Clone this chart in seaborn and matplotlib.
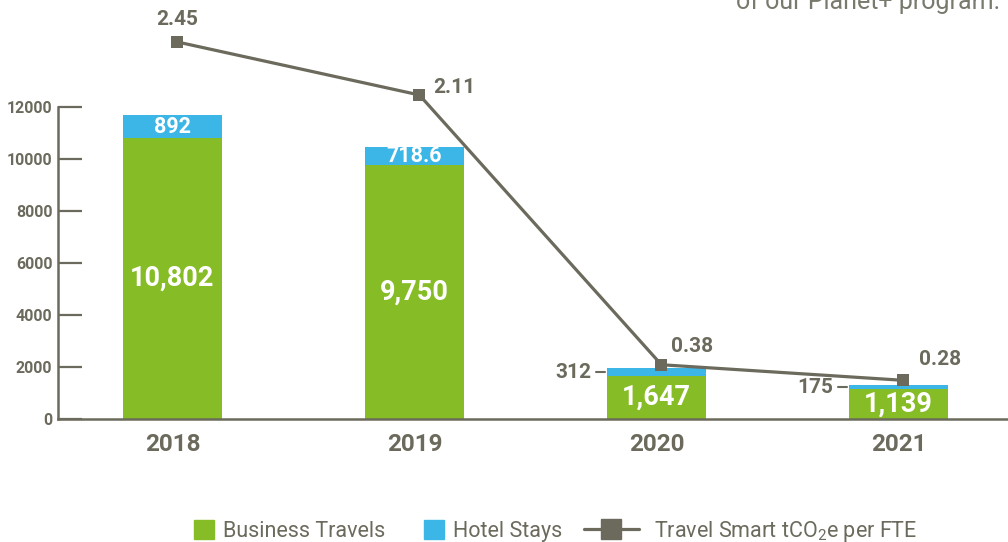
import matplotlib
matplotlib.use("Agg")
import matplotlib.pyplot as plt
import seaborn as sns
import numpy as np
from matplotlib.patches import Patch
from matplotlib.lines import Line2D

# Emissions by category (tCO2e) and intensity per FTE
years = ["2018", "2019", "2020", "2021"]
business_travels = [10802, 9750, 1647, 1139]
hotel_stays = [892, 718.6, 312, 175]
business_labels = ["10,802", "9,750", "1,647", "1,139"]
hotel_labels = ["892", "718.6", "312", "175"]
per_fte = [2.45, 2.11, 0.38, 0.28]
per_fte_labels = ["2.45", "2.11", "0.38", "0.28"]
y_ticks = [0, 2000, 4000, 6000, 8000, 10000, 12000]

GREEN = "#86bc25"
BLUE = "#3cb6e6"
GREY = "#6b6a5c"

sns.set_style("white")
plt.rcParams["font.family"] = ["Roboto", "DejaVu Sans"]
plt.rcParams["mathtext.default"] = "regular"

W, H = 1008, 542
fig = plt.figure(figsize=(W / 100, H / 100), dpi=100)
ax = fig.add_axes([58 / W, (H - 419) / H, (W - 58) / W, (419 - 10) / H])

totals = [b + h for b, h in zip(business_travels, hotel_stays)]
bar_w = 0.41
sns.barplot(x=years, y=totals, color=BLUE, width=bar_w, ax=ax, saturation=1,
            linewidth=0)
sns.barplot(x=years, y=business_travels, color=GREEN, width=bar_w, ax=ax,
            saturation=1, linewidth=0)

ax.set_xlim(-0.473, 3.452)
ax.set_ylim(0, 15730)
ax.set_yticks(y_ticks)
ax.set_yticklabels([str(t) for t in y_ticks])
ax.set_xlabel("")
ax.set_ylabel("")
for s in ["top", "right"]:
    ax.spines[s].set_visible(False)
for s in ["left", "bottom"]:
    ax.spines[s].set_color(GREY)
    ax.spines[s].set_linewidth(1.8)
ax.spines["left"].set_bounds(0, 12000)
ax.tick_params(axis="y", direction="in", length=17.5, width=1.6, color=GREY,
               labelsize=11.5, labelcolor=GREY, pad=4)
ax.tick_params(axis="x", length=0, labelsize=17.5, labelcolor=GREY, pad=10)
for lbl in ax.get_yticklabels() + ax.get_xticklabels():
    lbl.set_fontweight("bold")

px = 1 / 242.0  # one pixel in x data units
for i in range(len(years)):
    b, h = business_travels[i], hotel_stays[i]
    ax.text(i, b / 2, business_labels[i], ha="center", va="center",
            color="white", fontsize=19.5, fontweight="bold")
    if h > 500:
        ax.text(i, b + h / 2, hotel_labels[i], ha="center", va="center",
                color="white", fontsize=15.5, fontweight="bold", clip_on=False)
    else:
        left = i - bar_w / 2
        ymid = b + h / 2
        ax.plot([left - 11 * px, left - 2 * px], [ymid, ymid], color=GREY, lw=1.5)
        ax.text(left - 16 * px, ymid, hotel_labels[i], ha="right", va="center",
                color=GREY, fontsize=15, fontweight="bold")

# Intensity line on a secondary scale
ax2 = ax.twinx()
xs = np.arange(len(years)) + 0.02
sns.lineplot(x=xs, y=per_fte, ax=ax2, color=GREY, lw=2.3, marker="s",
             markersize=9, markeredgewidth=0, clip_on=False)
ax2.set_ylim(0.032, 2.655)
ax2.set_axis_off()

offsets = [((0, 16.5), "center"), ((10, 5.5), "left"), ((7, 13), "left"), ((11, 15), "left")]
for x, v, t, (off, ha) in zip(xs, per_fte, per_fte_labels, offsets):
    ax2.annotate(t, (x, v), xytext=off, textcoords="offset points", ha=ha,
                 va="center", color=GREY, fontsize=15, fontweight="bold",
                 annotation_clip=False)

# Legend
leg1 = fig.legend(handles=[Patch(color=GREEN, label="Business Travels"),
                           Patch(color=BLUE, label="Hotel Stays")],
                  loc="center left", bbox_to_anchor=(194 / W, 11 / H), ncol=2,
                  frameon=False, fontsize=15.5, handlelength=0.95, handleheight=0.95,
                  handletextpad=0.4, columnspacing=1.78, labelcolor=GREY,
                  borderaxespad=0, borderpad=0)
leg2 = fig.legend(handles=[Line2D([], [], color=GREY, lw=2.3, marker="s",
                                  markersize=15, label="Travel Smart tCO$_2$e per FTE")],
                  loc="center left", bbox_to_anchor=(584 / W, 11 / H),
                  frameon=False, fontsize=15.5, handlelength=2.55,
                  handletextpad=0.7, labelcolor=GREY,
                  borderaxespad=0, borderpad=0)

fig.text(1000 / W, 1 - 9 / H, "of our Planet+ program.", ha="right", va="baseline",
         color="#7a796e", fontsize=18)

fig.savefig("out.png", dpi=100)
